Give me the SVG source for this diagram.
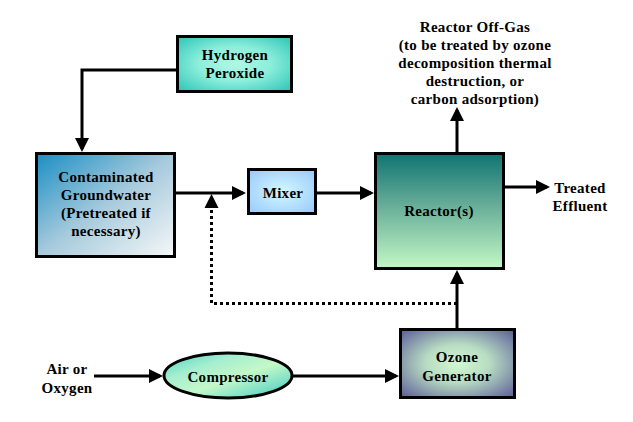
<svg xmlns="http://www.w3.org/2000/svg" width="633" height="422" viewBox="0 0 633 422">
<defs>
<style>
text{font-family:"Liberation Serif","Times New Roman",serif;font-weight:bold;font-size:15px;fill:#000;text-anchor:middle;letter-spacing:0.3px}
.box{stroke:#000;stroke-width:3}
.ln{fill:none;stroke:#000;stroke-width:3}
.dot{fill:none;stroke:#000;stroke-width:3;stroke-dasharray:3 3}
</style>
<marker id="ah" markerUnits="userSpaceOnUse" markerWidth="14" markerHeight="14" refX="11" refY="7" orient="auto">
<path d="M0,0 L14,7 L0,14 Z" fill="#000"/>
</marker>
<radialGradient id="gH2" cx="0.5" cy="0.5" r="0.7">
<stop offset="0" stop-color="#b2f7e4"/>
<stop offset="0.45" stop-color="#8ceedb"/>
<stop offset="1" stop-color="#2cc4b6"/>
</radialGradient>
<linearGradient id="gGW" x1="0" y1="0" x2="1" y2="1">
<stop offset="0" stop-color="#1a8ec4"/>
<stop offset="0.5" stop-color="#a6cadc"/>
<stop offset="1" stop-color="#f6f8f8"/>
</linearGradient>
<radialGradient id="gMx" cx="0.5" cy="0.5" r="0.7">
<stop offset="0" stop-color="#d4f8ff"/>
<stop offset="1" stop-color="#96c8fb"/>
</radialGradient>
<linearGradient id="gRe" x1="0" y1="0" x2="0" y2="1">
<stop offset="0" stop-color="#0f7472"/>
<stop offset="0.45" stop-color="#67ad98"/>
<stop offset="1" stop-color="#c2f8c4"/>
</linearGradient>
<radialGradient id="gOz" cx="0.5" cy="0.5" r="0.7">
<stop offset="0" stop-color="#d2f8d2"/>
<stop offset="0.4" stop-color="#b8dcc2"/>
<stop offset="1" stop-color="#5a5c98"/>
</radialGradient>
<linearGradient id="gCp" x1="0" y1="0" x2="1" y2="1">
<stop offset="0" stop-color="#4cd2c6"/>
<stop offset="0.3" stop-color="#a6eed0"/>
<stop offset="0.55" stop-color="#c4f8c8"/>
<stop offset="1" stop-color="#3ccac4"/>
</linearGradient>
</defs>

<g id="connectors">
<path class="ln" d="M177,70 H82 V149" marker-end="url(#ah)"/>
<path class="ln" d="M176,193 H243" marker-end="url(#ah)"/>
<path class="ln" d="M317,193 H371" marker-end="url(#ah)"/>
<path class="ln" d="M457,152 V110" marker-end="url(#ah)"/>
<path class="ln" d="M505,187 H547" marker-end="url(#ah)"/>
<path class="ln" d="M457,328 V273" marker-end="url(#ah)"/>
<path class="dot" d="M457,303.5 H211.5 V206"/>
<path d="M204.5,208 L211.5,194 L218.5,208 Z" fill="#000"/>
<path class="ln" d="M94,376 H160" marker-end="url(#ah)"/>
<path class="ln" d="M293,376 H396" marker-end="url(#ah)"/>
</g>

<g id="hydrogen-peroxide">
<rect class="box" x="177.5" y="36.5" width="114" height="55" fill="url(#gH2)"/>
<text x="235" y="60">Hydrogen</text>
<text x="235" y="78">Peroxide</text>
</g>

<g id="groundwater">
<rect class="box" x="36.5" y="153.5" width="138" height="103" fill="url(#gGW)"/>
<text x="106" y="182">Contaminated</text>
<text x="106" y="200">Groundwater</text>
<text x="106" y="218">(Pretreated if</text>
<text x="106" y="236">necessary)</text>
</g>

<g id="mixer">
<rect class="box" x="248.5" y="169.5" width="67" height="44" fill="url(#gMx)"/>
<text x="283" y="198">Mixer</text>
</g>

<g id="reactor">
<rect class="box" x="375.5" y="153.5" width="128" height="115" fill="url(#gRe)"/>
<text x="439" y="216">Reactor(s)</text>
</g>

<g id="off-gas">
<text x="475" y="32">Reactor Off-Gas</text>
<text x="475" y="50">(to be treated by ozone</text>
<text x="475" y="68">decomposition thermal</text>
<text x="475" y="86">destruction, or</text>
<text x="475" y="104">carbon adsorption)</text>
</g>

<g id="treated-effluent">
<text x="580" y="193">Treated</text>
<text x="580" y="211">Effluent</text>
</g>

<g id="ozone-generator">
<rect class="box" x="400.5" y="329.5" width="114" height="68" fill="url(#gOz)"/>
<text x="457" y="362">Ozone</text>
<text x="457" y="381">Generator</text>
</g>

<g id="compressor">
<ellipse class="box" cx="228" cy="375.5" rx="64" ry="22.5" fill="url(#gCp)"/>
<text x="228" y="382">Compressor</text>
</g>

<g id="air-oxygen">
<text x="67" y="374">Air or</text>
<text x="67" y="393">Oxygen</text>
</g>
</svg>
